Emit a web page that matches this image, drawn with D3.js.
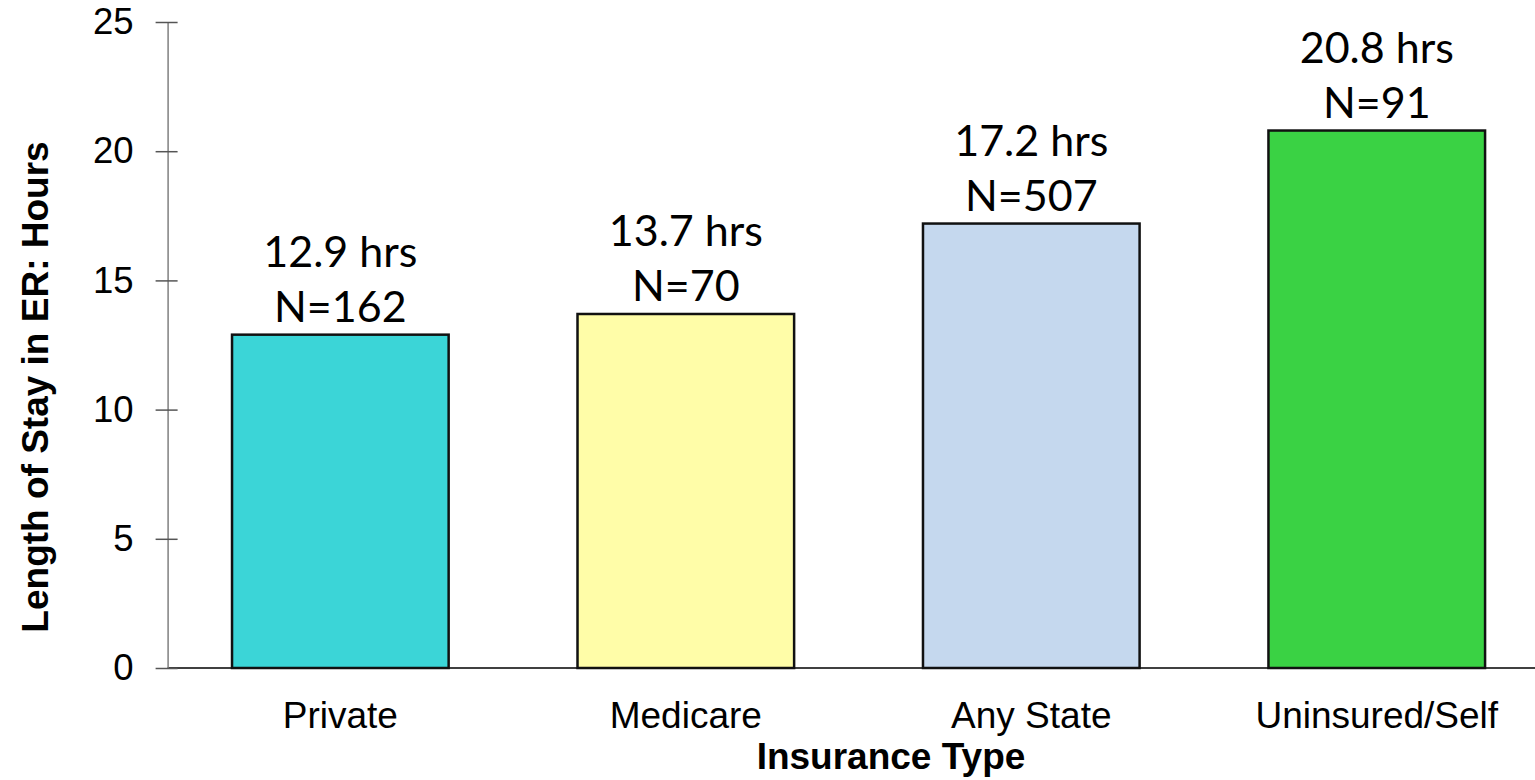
<!DOCTYPE html>
<html>
<head>
<meta charset="utf-8">
<script src="https://cdn.jsdelivr.net/npm/d3@7"></script>
<style>
  html, body { margin: 0; padding: 0; background: #fff; }
  svg { display: block; }
</style>
</head>
<body>
<svg id="chart" width="1535" height="780"></svg>
<script>
const categories = ["Private", "Medicare", "Any State", "Uninsured/Self"];
const hours = [12.9, 13.7, 17.2, 20.8];
const counts = [162, 70, 507, 91];
const colors = ["#3BD5D7", "#FFFDA8", "#C5D8EE", "#3AD244"];
const yTicks = [0, 5, 10, 15, 20, 25];

const svg = d3.select("#chart");
const x0 = 167.6, x1 = 1549.5, yTop = 22, yBot = 668;

const x = d3.scaleBand().domain(categories).range([x0, x1])
  .paddingInner(0.373).paddingOuter(0.1865);
const y = d3.scaleLinear().domain([0, 25]).range([yBot, yTop]);

// x baseline
svg.append("line")
  .attr("x1", x0).attr("x2", 1535)
  .attr("y1", y(0)).attr("y2", y(0))
  .attr("stroke", "#000").attr("stroke-width", 1.5);

// y axis
const yAxis = svg.append("g").attr("transform", `translate(${x0},0)`)
  .call(d3.axisLeft(y).tickValues(yTicks).tickSize(0).tickPadding(34).tickFormat(d3.format("d")));
yAxis.select(".domain").attr("stroke", "#808080").attr("stroke-width", 1.5);
yAxis.selectAll(".tick line").remove();
yAxis.selectAll(".tick").append("line")
  .attr("x1", -12).attr("x2", 10).attr("y1", 0).attr("y2", 0)
  .attr("stroke", "#555").attr("stroke-width", 1.5);
yAxis.selectAll(".tick text")
  .attr("font-family", "Liberation Sans, Arial, sans-serif")
  .attr("font-size", 36.5).attr("fill", "#000");

// bars
const data = categories.map((c, i) => ({ c, v: hours[i], n: counts[i], col: colors[i] }));
svg.selectAll("rect.bar").data(data).join("rect")
  .attr("class", "bar")
  .attr("x", d => x(d.c))
  .attr("width", x.bandwidth())
  .attr("y", d => y(d.v))
  .attr("height", d => y(0) - y(d.v))
  .attr("fill", d => d.col)
  .attr("stroke", "#111").attr("stroke-width", 2.5);

// value labels
const lbl = svg.selectAll("g.lbl").data(data).join("g").attr("class", "lbl")
  .attr("transform", d => `translate(${x(d.c) + x.bandwidth() / 2},${y(d.v)})`);
lbl.append("text").attr("y", -68).attr("text-anchor", "middle")
  .attr("font-family", "Lato, 'Open Sans', sans-serif").attr("font-size", 43)
  .text(d => `${d.v} hrs`);
lbl.append("text").attr("y", -13).attr("text-anchor", "middle")
  .attr("font-family", "Lato, 'Open Sans', sans-serif").attr("font-size", 43)
  .text(d => `N=${d.n}`);

// x category labels
svg.selectAll("text.xl").data(categories).join("text").attr("class", "xl")
  .attr("x", d => x(d) + x.bandwidth() / 2).attr("y", 728)
  .attr("text-anchor", "middle")
  .attr("font-family", "Liberation Sans, Arial, sans-serif").attr("font-size", 37)
  .text(d => d);

// axis titles
svg.append("text").attr("x", 891).attr("y", 769).attr("text-anchor", "middle")
  .attr("font-family", "Liberation Sans, Arial, sans-serif").attr("font-size", 37)
  .attr("font-weight", "bold").text("Insurance Type");
svg.append("text").attr("transform", "translate(48,387) rotate(-90)")
  .attr("text-anchor", "middle")
  .attr("font-family", "Liberation Sans, Arial, sans-serif").attr("font-size", 37)
  .attr("font-weight", "bold").text("Length of Stay in ER: Hours");
</script>
</body>
</html>
